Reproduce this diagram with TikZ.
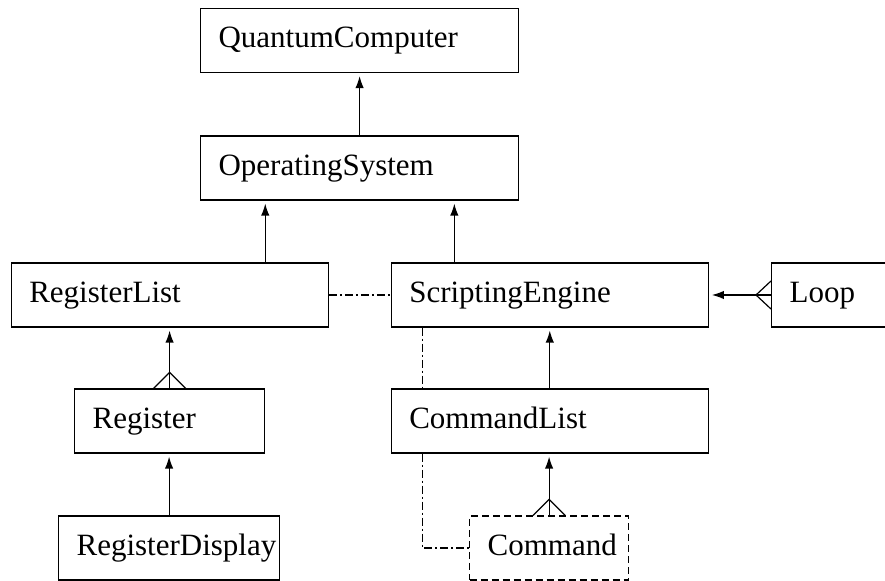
\documentclass[tikz,border=0pt]{standalone}
\usepackage{fontspec}
\setmainfont{Liberation Serif}
\usetikzlibrary{arrows.meta,calc}

\begin{document}
\begin{tikzpicture}[x=0.5pt,y=-0.5pt,
		classbox/.style={draw, line width=0.6pt, anchor=west, minimum height=32pt,
			inner xsep=0pt, inner ysep=0pt, text height=11pt, text depth=3.5pt, align=left,
			font=\fontsize{15.5}{18}\selectfont, execute at begin node={\hspace*{9pt}}},
		assoc/.style={line width=0.6pt, -{Latex[length=6pt,width=4.2pt]}, shorten >=1.5pt},
		link/.style={line width=0.6pt, dash pattern=on 4pt off 1.5pt on 1pt off 1.5pt},
		foot/.style={line width=0.6pt}]
	\useasboundingbox (0,0) rectangle (885,581);
	\clip (0,0) rectangle (885,581);
	
	%Classes
	\node[classbox, text width=159pt] (qc) at (200,40.5) {QuantumComputer};
	\node[classbox, text width=159pt] (os) at (200,168) {OperatingSystem};
	\node[classbox, text width=158.5pt] (rlist) at (10.7,295) {RegisterList};
	\node[classbox, text width=158.5pt] (engine) at (390.7,295) {ScriptingEngine};
	\node[classbox, text width=110pt] (loop) at (771,295) {Loop};
	\node[classbox, text width=95pt] (reg) at (74,421) {Register};
	\node[classbox, text width=158.5pt] (clist) at (390.7,421) {CommandList};
	\node[classbox, text width=110.5pt] (rdisp) at (58,548) {RegisterDisplay};
	\node[classbox, text width=79.5pt, dash pattern=on 3.5pt off 2pt] (cmd) at (469,548) {Command};
	
	%Upper links
	\coordinate (rl up) at ($(rlist.north west)!0.8!(rlist.north east)$);
	\coordinate (se up) at ($(engine.north west)!0.2!(engine.north east)$);
	\coordinate (se down) at ($(engine.south west)!0.1!(engine.south east)$);
	\draw[assoc] (os.north) -- (qc.south);
	\draw[assoc] (rl up) -- (rl up |- os.south);
	\draw[assoc] (se up) -- (se up |- os.south);
	\draw[link] (rlist.east) -- (engine.west);
	
	%Loop
	\draw[assoc] (loop.west) -- (engine.east);
	\draw[foot] ([yshift=7pt]loop.west) -- ([xshift=-7.5pt]loop.west) -- ([yshift=-7pt]loop.west);
	
	%Register side
	\draw[assoc] (reg.north) -- (reg.north |- rlist.south);
	\draw[foot] ([xshift=-8pt]reg.north) -- ([yshift=8pt]reg.north) -- ([xshift=8pt]reg.north);
	\draw[assoc] (rdisp.north) -- (rdisp.north |- reg.south);
	
	%Command side
	\draw[assoc] (clist.north) -- (engine.south);
	\draw[link] (se down) -- (se down |- clist.north);
	\draw[link] (se down |- clist.south) |- (cmd.west);
	\draw[assoc] (cmd.north) -- (cmd.north |- clist.south);
	\draw[foot] ([xshift=-8pt]cmd.north) -- ([yshift=8pt]cmd.north) -- ([xshift=8pt]cmd.north);
\end{tikzpicture}
\end{document}
